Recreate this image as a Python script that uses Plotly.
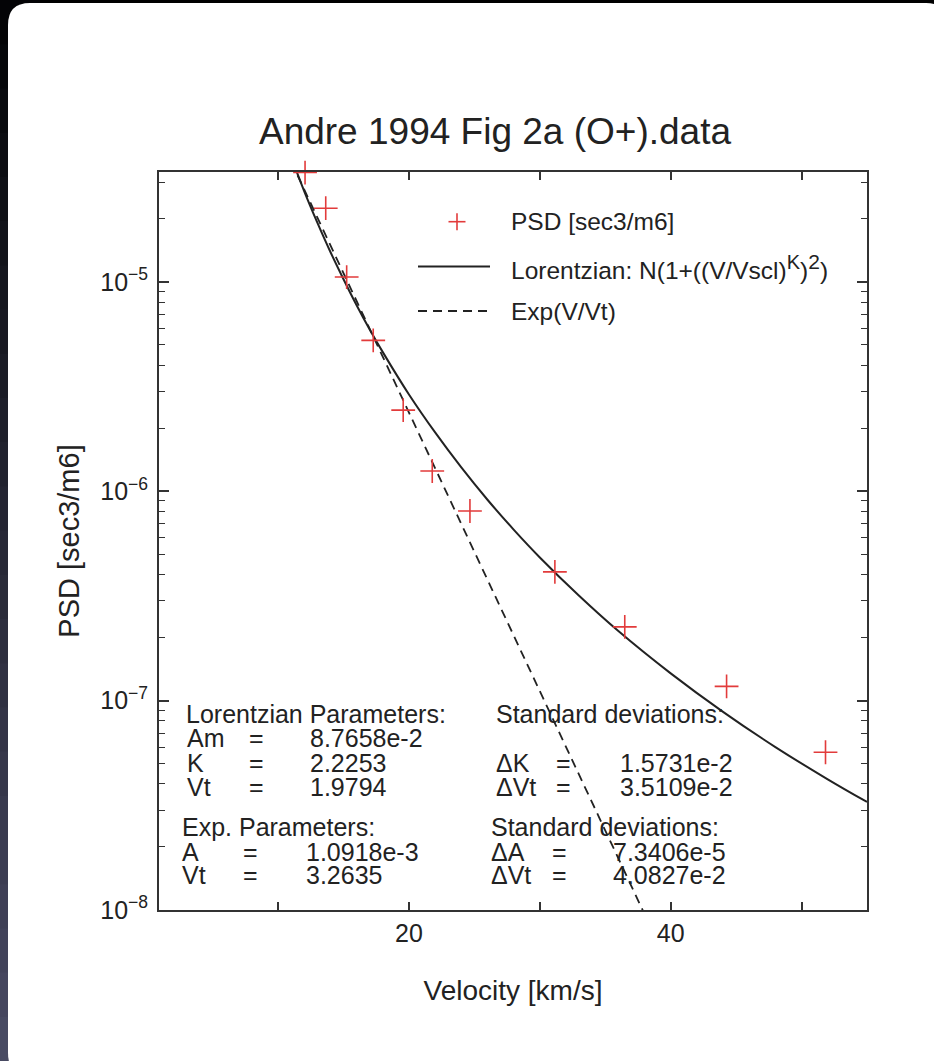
import plotly.graph_objects as go

# ---------------- data ----------------
velocity = [12.06, 13.64, 15.24, 17.27, 19.56, 21.78, 24.66, 31.15, 36.49, 44.27, 51.83]
psd = [3.33e-5, 2.25e-5, 1.055e-5, 5.26e-6, 2.44e-6, 1.25e-6, 8.05e-7, 4.12e-7, 2.25e-7, 1.17e-7, 5.67e-8]

lor_v = [11, 12, 13, 14, 15, 16, 17, 18, 20, 22, 24, 26, 28, 30, 33, 36, 40, 44, 48, 52, 55]
lor_psd = [3.95e-5, 2.71e-5, 1.92e-5, 1.39e-5, 1.03e-5, 7.74e-6, 5.93e-6, 4.62e-6, 2.90e-6,
           1.91e-6, 1.30e-6, 9.11e-7, 6.56e-7, 4.83e-7, 3.17e-7, 2.15e-7, 1.35e-7, 8.84e-8,
           6.00e-8, 4.21e-8, 3.28e-8]

exp_v = [11, 20, 30, 38]
exp_psd = [3.75e-5, 2.38e-6, 1.11e-7, 9.56e-9]

x_tickvals = [20, 40]
x_ticktext = ["20", "40"]
x_minor = [10, 30, 50]
y_tickvals = [1e-8, 1e-7, 1e-6, 1e-5]
y_ticktext = ["10<sup>−8</sup>", "10<sup>−7</sup>", "10<sup>−6</sup>", "10<sup>−5</sup>"]
y_minor = [m * 10.0 ** e for e in (-8, -7, -6, -5) for m in range(2, 10) if m * 10.0 ** e < 3.4e-5]

legend_labels = ["PSD [sec3/m6]",
                 "Lorentzian: N(1+((V/Vscl)<sup><span style='font-size:20px'>K</span></sup>)"
                 "<sup><span style='font-size:21px'>2</span></sup>)",
                 "Exp(V/Vt)"]

lor_head = "Lorentzian Parameters:"
lor_labels = ["Am", "K", "Vt"]
lor_values = ["8.7658e-2", "2.2253", "1.9794"]
lor_sd_head = "Standard deviations:"
lor_sd_labels = ["ΔK", "ΔVt"]
lor_sd_values = ["1.5731e-2", "3.5109e-2"]
exp_head = "Exp. Parameters:"
exp_labels = ["A", "Vt"]
exp_values = ["1.0918e-3", "3.2635"]
exp_sd_head = "Standard deviations:"
exp_sd_labels = ["ΔA", "ΔVt"]
exp_sd_values = ["7.3406e-5", "4.0827e-2"]

# ---------------- layout geometry ----------------
W, H = 934, 1061
L, R, T, B = 159, 867, 172, 910
PW, PH = R - L, B - T
FONT = "Liberation Sans, Arial, Helvetica, sans-serif"
INK = "#222222"
RED = "#e23b3b"


def px(x):
    return (x - L) / PW


def py(y):
    return (B - y) / PH


def rounded_rect(x0, y0, x1, y1, r):
    pts = [
        f"M {px(x0 + r)} {py(y0)}",
        f"L {px(x1 - r)} {py(y0)}",
        f"Q {px(x1)} {py(y0)} {px(x1)} {py(y0 + r)}",
        f"L {px(x1)} {py(y1 - r)}",
        f"Q {px(x1)} {py(y1)} {px(x1 - r)} {py(y1)}",
        f"L {px(x0 + r)} {py(y1)}",
        f"Q {px(x0)} {py(y1)} {px(x0)} {py(y1 - r)}",
        f"L {px(x0)} {py(y0 + r)}",
        f"Q {px(x0)} {py(y0)} {px(x0 + r)} {py(y0)}",
        "Z",
    ]
    return " ".join(pts)


fig = go.Figure()

fig.add_trace(go.Scatter(x=lor_v, y=lor_psd, mode="lines", line=dict(color=INK, width=2, shape="spline"),
                         showlegend=False, hoverinfo="skip"))
fig.add_trace(go.Scatter(x=exp_v, y=exp_psd, mode="lines", line=dict(color=INK, width=1.8, dash="9px,6px"),
                         showlegend=False, hoverinfo="skip"))
fig.add_trace(go.Scatter(x=velocity, y=psd, mode="markers", cliponaxis=False,
                         marker=dict(symbol="cross-thin", size=17, line=dict(color=RED, width=1.6)),
                         showlegend=False))

shapes = []
# dark left strip gradient
n = 24
c0 = (4, 4, 6)
c1 = (72, 74, 98)
for i in range(n):
    t = i / (n - 1)
    col = tuple(int(c0[k] + (c1[k] - c0[k]) * t) for k in range(3))
    y0 = H * i / n
    y1 = H * (i + 1) / n + 1
    shapes.append(dict(type="rect", xref="paper", yref="paper", x0=px(0), x1=px(40), y0=py(y0), y1=py(y1),
                       fillcolor=f"rgb{col}", line=dict(width=0), layer="below"))
# white card
shapes.append(dict(type="path", xref="paper", yref="paper", path=rounded_rect(8, 3, 948, 1075, 22),
                   fillcolor="white", line=dict(width=0), layer="below"))

# manual legend
ly = [221.7, 266.5, 311]
shapes.append(dict(type="line", xref="paper", yref="paper", x0=px(448.5), x1=px(465.5), y0=py(ly[0]), y1=py(ly[0]),
                   line=dict(color=RED, width=1.6)))
shapes.append(dict(type="line", xref="paper", yref="paper", x0=px(457), x1=px(457), y0=py(ly[0] - 8.5),
                   y1=py(ly[0] + 8.5), line=dict(color=RED, width=1.6)))
shapes.append(dict(type="line", xref="paper", yref="paper", x0=px(418), x1=px(490), y0=py(ly[1]), y1=py(ly[1]),
                   line=dict(color=INK, width=2)))
shapes.append(dict(type="line", xref="paper", yref="paper", x0=px(418), x1=px(490), y0=py(ly[2]), y1=py(ly[2]),
                   line=dict(color=INK, width=1.8, dash="9px,6px")))

annotations = []


def txt(s, x, y, size=25, anchor="left"):
    annotations.append(dict(text=s, x=px(x), y=py(y), xref="paper", yref="paper", xanchor=anchor,
                            yanchor="middle", showarrow=False, font=dict(family=FONT, size=size, color=INK)))


for lab, yy in zip(legend_labels, ly):
    txt(lab, 509, yy, size=24.5)

# parameter block
txt(lor_head, 184, 714)
for i, (lab, val) in enumerate(zip(lor_labels, lor_values)):
    yy = 738 + 24.5 * i
    txt(lab, 185, yy)
    txt("=", 256, yy, anchor="center")
    txt(val, 308, yy)
txt(lor_sd_head, 494, 714)
for i, (lab, val) in enumerate(zip(lor_sd_labels, lor_sd_values)):
    yy = 762.5 + 24.5 * i
    txt(lab, 494, yy)
    txt("=", 563, yy, anchor="center")
    txt(val, 618, yy)
txt(exp_head, 180, 827)
for i, (lab, val) in enumerate(zip(exp_labels, exp_values)):
    yy = 851.5 + 23.5 * i
    txt(lab, 180, yy)
    txt("=", 250, yy, anchor="center")
    txt(val, 304, yy)
txt(exp_sd_head, 489, 827)
for i, (lab, val) in enumerate(zip(exp_sd_labels, exp_sd_values)):
    yy = 851.5 + 23.5 * i
    txt(lab, 489, yy)
    txt("=", 559, yy, anchor="center")
    txt(val, 611, yy)

axis_common = dict(showline=True, linecolor="#333333", linewidth=2, mirror="ticks", ticks="inside",
                   tickcolor="#333333", tickwidth=1.5, showgrid=False, zeroline=False)

fig.update_layout(
    width=W, height=H, autosize=False,
    margin=dict(l=L, r=W - R, t=T, b=H - B, pad=0),
    paper_bgcolor="#000000", plot_bgcolor="white",
    title=dict(text="Andre 1994 Fig 2a (O+).data", x=495 / W, y=1 - 131 / H, xref="container", yref="container",
               xanchor="center", yanchor="middle", font=dict(family=FONT, size=37, color=INK)),
    xaxis=dict(range=[0.9, 55], tickmode="array", tickvals=x_tickvals, ticktext=x_ticktext, ticklen=8,
               tickfont=dict(family=FONT, size=25, color=INK),
               minor=dict(tickmode="array", tickvals=x_minor, ticks="inside", ticklen=8, tickcolor="#333333",
                          tickwidth=1.5),
               title=dict(text="Velocity [km/s]", standoff=34, font=dict(family=FONT, size=28, color=INK)),
               **axis_common),
    yaxis=dict(type="log", range=[-8, -4.475], tickmode="array", tickvals=y_tickvals, ticktext=y_ticktext,
               ticklen=10, ticklabelstandoff=4, tickfont=dict(family=FONT, size=25, color=INK),
               minor=dict(tickmode="array", tickvals=y_minor, ticks="inside", ticklen=6, tickcolor="#333333",
                          tickwidth=1.3),
               title=dict(text="PSD [sec3/m6]", standoff=12, font=dict(family=FONT, size=29, color=INK)),
               **axis_common),
    shapes=shapes,
    annotations=annotations,
    showlegend=False,
)

fig.write_html("out.html")
